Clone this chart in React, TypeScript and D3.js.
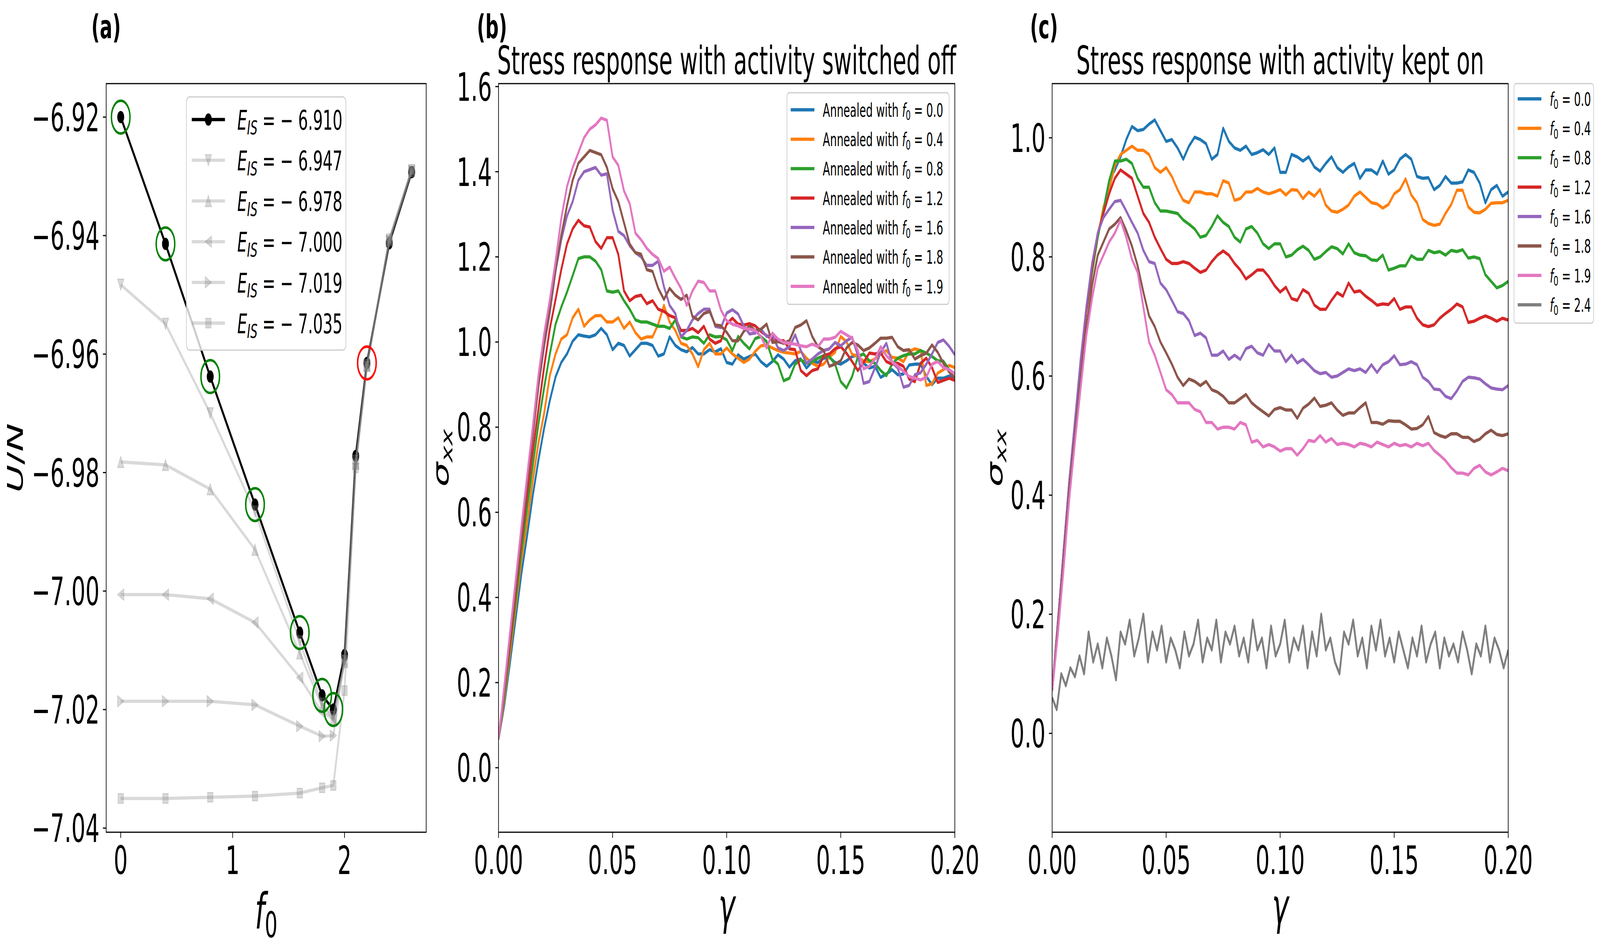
import React, { useEffect, useRef } from 'react';
import * as d3 from 'd3';

const W = 7234;
const H = 2434;
const FONT = '"DejaVu Sans", "Liberation Sans", sans-serif';

// ---------- panel (a): energy vs f0 ----------
const f0Values = [0, 0.4, 0.8, 1.2, 1.6, 1.8, 1.9, 2.0, 2.1, 2.2, 2.4, 2.6];
const eisLabels = ['6.910', '6.947', '6.978', '7.000', '7.019', '7.035'];
const eisMarkers = ['circle', 'tdown', 'tup', 'tleft', 'tright', 'square'];
const u6910 = [-6.920, -6.9414, -6.9638, -6.9854, -7.0070, -7.0176, -7.0200, -7.0108, -6.9772, -6.9615, -6.9413, -6.9293];
const u6947 = [-6.9483, -6.9549, -6.9700, -6.9866, -7.0085, -7.0190, -7.0212, -7.0118, -6.9780, -6.9618, -6.9410, -6.9292];
const u6978 = [-6.9782, -6.9787, -6.9828, -6.9930, -7.0105, -7.0195, -7.0215, -7.0120, -6.9785, -6.9620, -6.9408, -6.9291];
const u7000 = [-7.0006, -7.0006, -7.0013, -7.0053, -7.0146, -7.0205, -7.0215, -7.0118, -6.9785, -6.9620, -6.9408, -6.9290];
const u7019 = [-7.0186, -7.0186, -7.0186, -7.0192, -7.0228, -7.0245, -7.0244, -7.0115, -6.9785, -6.9620, -6.9408, -6.9290];
const u7035 = [-7.0350, -7.0350, -7.0348, -7.0346, -7.0341, -7.0332, -7.0328, -7.0168, -6.9792, -6.9620, -6.9405, -6.9288];
const energySeries = [u6910, u6947, u6978, u7000, u7019, u7035];
const greenCircleIdx = [0, 1, 2, 3, 4, 5, 6];
const redCircleIdx = [9];
const aTicksX = [0, 1, 2];
const aTicksY = [-7.04, -7.02, -7.0, -6.98, -6.96, -6.94, -6.92];

// ---------- panels (b), (c): stress vs strain ----------
const strainGrid = d3.range(81).map((i) => i * 0.0025);
const strainGridFine = d3.range(101).map((i) => i * 0.002);
const f0Legend = ['0.0', '0.4', '0.8', '1.2', '1.6', '1.8', '1.9', '2.4'];
const tab10 = ['#1f77b4', '#ff7f0e', '#2ca02c', '#d62728', '#9467bd', '#8c564b', '#e377c2', '#7f7f7f'];

const offF00 = [0.067, 0.146, 0.246, 0.35, 0.455, 0.544, 0.639, 0.723, 0.798, 0.863, 0.918, 0.952, 0.972, 1.002, 1.017, 1.014, 1.012, 1.017, 1.032, 1.017, 0.982, 0.997, 0.992, 0.967, 0.982, 0.997, 0.997, 0.992, 0.967, 0.972, 1.012, 0.992, 0.982, 0.977, 0.987, 0.972, 0.972, 0.982, 0.977,
  0.984, 0.952, 0.948, 0.97, 0.96, 0.966, 0.972, 0.954, 0.943, 0.954, 0.97, 0.96, 0.941, 0.956, 0.96, 0.939, 0.954, 0.952, 0.962, 0.964, 0.952, 0.948, 0.956, 0.966, 0.97, 0.95, 0.939, 0.943, 0.917, 0.925, 0.935, 0.923, 0.925, 0.946, 0.948, 0.948, 0.919, 0.9, 0.915, 0.915, 0.92, 0.915];
const offF04 = [0.067, 0.156, 0.266, 0.375, 0.485, 0.574, 0.674, 0.763, 0.833, 0.922, 0.972, 1.007, 1.017, 1.057, 1.077, 1.037, 1.052, 1.062, 1.062, 1.047, 1.047, 1.057, 1.032, 1.047, 1.022, 1.007, 1.012, 1.012, 1.042, 1.086, 1.047, 1.027, 0.997, 0.992, 0.972, 0.942, 0.982, 0.997, 0.972,
  0.972, 0.986, 0.972, 0.962, 0.952, 0.96, 0.978, 0.991, 0.993, 0.986, 0.98, 0.976, 0.974, 0.972, 0.978, 0.962, 0.95, 0.943, 0.948, 0.965, 0.976, 1.013, 1.001, 0.971, 0.966, 0.955, 0.954, 0.96, 0.972, 0.98, 0.964, 0.962, 0.954, 0.978, 0.984, 0.98, 0.898, 0.902, 0.927, 0.935, 0.945, 0.94];
const offF08 = [0.067, 0.166, 0.28, 0.39, 0.505, 0.609, 0.709, 0.808, 0.893, 0.972, 1.042, 1.082, 1.117, 1.156, 1.196, 1.2, 1.2, 1.19, 1.17, 1.12, 1.117, 1.12, 1.097, 1.077, 1.052, 1.047, 1.047, 1.042, 1.037, 1.037, 1.032, 1.052, 1.012, 1.007, 1.012, 1.01, 0.997, 1.017, 1.012,
  1.013, 1.005, 0.98, 1.013, 0.997, 0.984, 1.008, 1.013, 1.001, 0.96, 0.948, 0.909, 0.915, 0.948, 0.958, 0.95, 0.954, 0.962, 0.968, 0.966, 0.948, 0.907, 0.892, 0.919, 0.966, 0.972, 0.956, 0.95, 0.933, 0.921, 0.948, 0.962, 0.968, 0.972, 0.972, 0.98, 0.974, 0.966, 0.956, 0.955, 0.935, 0.925];
const offF12 = [0.067, 0.176, 0.29, 0.41, 0.53, 0.639, 0.743, 0.843, 0.942, 1.032, 1.10, 1.17, 1.23, 1.266, 1.286, 1.273, 1.27, 1.236, 1.22, 1.245, 1.245, 1.206, 1.12, 1.097, 1.107, 1.11, 1.09, 1.097, 1.077, 1.072, 1.062, 1.057, 1.027, 1.027, 1.032, 1.022, 1.037, 1.007, 0.997,
  1.003, 1.042, 1.056, 1.042, 1.04, 1.043, 1.038, 1.025, 1.015, 1.007, 1.003, 1.003, 0.984, 0.982, 0.933, 0.921, 0.933, 0.937, 0.968, 0.972, 0.984, 0.989, 0.974, 0.954, 0.933, 0.952, 0.974, 0.972, 0.974, 0.954, 0.948, 0.95, 0.943, 0.913, 0.907, 0.95, 0.962, 0.94, 0.905, 0.91, 0.915, 0.91];
const offF16 = [0.067, 0.18, 0.306, 0.425, 0.546, 0.666, 0.78, 0.895, 0.99, 1.07, 1.166, 1.24, 1.296, 1.33, 1.38, 1.40, 1.405, 1.41, 1.392, 1.395, 1.31, 1.26, 1.25, 1.226, 1.21, 1.20, 1.18, 1.18, 1.19, 1.13, 1.086, 1.067, 1.012, 1.027, 1.052, 1.067, 1.077, 1.077, 1.037,
  1.034, 1.068, 1.076, 1.066, 1.038, 1.019, 1.021, 1.03, 1.013, 1.017, 0.986, 0.98, 0.989, 1.017, 0.98, 0.95, 0.96, 0.972, 0.98, 0.984, 0.999, 0.991, 1.003, 1.011, 0.968, 0.903, 0.907, 0.939, 0.976, 0.997, 0.952, 0.939, 0.894, 0.898, 0.923, 0.928, 0.948, 0.972, 0.999, 1.005, 0.99, 0.97];
const offF18 = [0.067, 0.18, 0.306, 0.425, 0.55, 0.669, 0.78, 0.90, 0.997, 1.077, 1.17, 1.25, 1.32, 1.38, 1.42, 1.435, 1.45, 1.445, 1.44, 1.41, 1.36, 1.33, 1.28, 1.23, 1.21, 1.206, 1.17, 1.166, 1.126, 1.10, 1.126, 1.11, 1.10, 1.11, 1.06, 1.052, 1.067, 1.072, 1.04,
  1.038, 1.023, 1.003, 1.003, 1.025, 1.038, 1.027, 1.03, 1.042, 0.999, 1.001, 0.997, 1.003, 1.034, 1.04, 1.05, 1.013, 0.989, 0.98, 0.943, 0.948, 0.956, 0.986, 0.999, 0.993, 0.98, 0.986, 0.997, 1.009, 1.009, 1.011, 0.989, 0.98, 0.982, 0.96, 0.968, 0.974, 0.993, 0.976, 0.95, 0.93, 0.915];
const offF19 = [0.067, 0.19, 0.316, 0.44, 0.565, 0.684, 0.80, 0.922, 1.02, 1.10, 1.19, 1.29, 1.365, 1.41, 1.445, 1.48, 1.50, 1.51, 1.526, 1.521, 1.435, 1.415, 1.355, 1.325, 1.256, 1.24, 1.22, 1.206, 1.196, 1.166, 1.176, 1.15, 1.126, 1.086, 1.12, 1.143, 1.14, 1.12, 1.12,
  1.075, 1.05, 1.042, 1.038, 1.032, 1.03, 1.027, 1.013, 0.986, 1.021, 1.007, 0.999, 0.997, 0.995, 0.991, 0.989, 0.995, 0.989, 1.007, 1.007, 1.011, 1.025, 1.017, 1.009, 0.98, 0.937, 0.943, 0.96, 0.989, 0.968, 0.954, 0.943, 0.931, 0.919, 0.915, 0.911, 0.917, 0.948, 0.954, 0.94, 0.935, 0.925];

const onF00 = [0.071, 0.188, 0.302, 0.415, 0.51, 0.613, 0.708, 0.774, 0.833, 0.88, 0.928, 0.946, 0.968, 0.997, 1.019, 1.012, 1.014, 1.023, 1.03, 1.012, 0.994, 0.997, 0.983, 0.964, 0.986, 1.001, 0.997, 0.99, 0.964, 0.972, 1.016, 0.994, 0.983, 0.979, 0.986, 0.972, 0.975, 0.98, 0.972, 0.983, 0.942,
  0.942, 0.972, 0.968, 0.961, 0.968, 0.951, 0.944, 0.957, 0.968, 0.95, 0.942, 0.951, 0.957, 0.932, 0.946, 0.946, 0.939, 0.961, 0.939, 0.946, 0.964, 0.972, 0.964, 0.935, 0.932, 0.933, 0.913, 0.92, 0.935, 0.924, 0.924, 0.926, 0.946, 0.942, 0.924, 0.891, 0.913, 0.92, 0.902, 0.909];
const onF04 = [0.071, 0.188, 0.302, 0.415, 0.51, 0.613, 0.708, 0.774, 0.833, 0.884, 0.913, 0.953, 0.972, 0.979, 0.986, 0.979, 0.979, 0.972, 0.95, 0.942, 0.95, 0.935, 0.913, 0.895, 0.891, 0.909, 0.909, 0.906, 0.906, 0.902, 0.928, 0.924, 0.895, 0.898, 0.909, 0.909, 0.915, 0.909, 0.906, 0.909, 0.913,
  0.904, 0.913, 0.912, 0.898, 0.909, 0.902, 0.913, 0.887, 0.877, 0.875, 0.88, 0.887, 0.902, 0.909, 0.9, 0.891, 0.889, 0.882, 0.888, 0.906, 0.913, 0.931, 0.904, 0.891, 0.863, 0.856, 0.853, 0.855, 0.873, 0.888, 0.912, 0.912, 0.884, 0.875, 0.874, 0.88, 0.89, 0.891, 0.891, 0.895];
const onF08 = [0.071, 0.174, 0.291, 0.408, 0.507, 0.609, 0.708, 0.774, 0.833, 0.877, 0.928, 0.961, 0.961, 0.964, 0.957, 0.932, 0.917, 0.917, 0.891, 0.877, 0.877, 0.875, 0.873, 0.862, 0.855, 0.847, 0.833, 0.836, 0.851, 0.869, 0.858, 0.851, 0.833, 0.825, 0.847, 0.851, 0.84, 0.822, 0.814, 0.822, 0.822,
  0.8, 0.803, 0.812, 0.818, 0.811, 0.796, 0.8, 0.809, 0.817, 0.814, 0.805, 0.822, 0.807, 0.803, 0.802, 0.795, 0.794, 0.803, 0.778, 0.781, 0.785, 0.785, 0.802, 0.796, 0.796, 0.811, 0.807, 0.809, 0.803, 0.811, 0.809, 0.812, 0.798, 0.8, 0.797, 0.77, 0.759, 0.748, 0.752, 0.759];
const onF12 = [0.071, 0.181, 0.306, 0.423, 0.522, 0.62, 0.708, 0.781, 0.84, 0.873, 0.906, 0.932, 0.946, 0.939, 0.932, 0.902, 0.873, 0.858, 0.833, 0.814, 0.796, 0.789, 0.789, 0.792, 0.789, 0.781, 0.774, 0.778, 0.792, 0.803, 0.81, 0.803, 0.789, 0.778, 0.763, 0.77, 0.778, 0.778, 0.767, 0.752, 0.741,
  0.749, 0.73, 0.727, 0.745, 0.739, 0.719, 0.712, 0.712, 0.727, 0.74, 0.734, 0.756, 0.741, 0.743, 0.734, 0.727, 0.719, 0.721, 0.72, 0.73, 0.712, 0.716, 0.716, 0.697, 0.686, 0.683, 0.686, 0.697, 0.705, 0.712, 0.721, 0.716, 0.69, 0.692, 0.697, 0.701, 0.697, 0.692, 0.697, 0.694];
const onF16 = [0.071, 0.185, 0.306, 0.423, 0.525, 0.628, 0.716, 0.789, 0.84, 0.866, 0.88, 0.893, 0.895, 0.877, 0.858, 0.84, 0.811, 0.792, 0.789, 0.756, 0.745, 0.727, 0.708, 0.705, 0.693, 0.668, 0.672, 0.664, 0.635, 0.635, 0.642, 0.628, 0.635, 0.628, 0.646, 0.65, 0.639, 0.635, 0.653, 0.642, 0.642,
  0.624, 0.635, 0.622, 0.628, 0.619, 0.609, 0.604, 0.606, 0.598, 0.6, 0.606, 0.612, 0.609, 0.612, 0.606, 0.619, 0.606, 0.619, 0.624, 0.634, 0.619, 0.62, 0.624, 0.619, 0.598, 0.591, 0.578, 0.577, 0.566, 0.562, 0.575, 0.591, 0.598, 0.597, 0.595, 0.587, 0.58, 0.578, 0.577, 0.584];
const onF18 = [0.071, 0.174, 0.291, 0.408, 0.503, 0.598, 0.679, 0.752, 0.803, 0.825, 0.847, 0.855, 0.866, 0.844, 0.818, 0.785, 0.741, 0.701, 0.683, 0.657, 0.639, 0.62, 0.598, 0.584, 0.595, 0.591, 0.584, 0.591, 0.577, 0.573, 0.566, 0.555, 0.555, 0.562, 0.569, 0.555, 0.547, 0.54, 0.533, 0.544, 0.547,
  0.543, 0.543, 0.529, 0.546, 0.553, 0.563, 0.549, 0.551, 0.555, 0.543, 0.534, 0.538, 0.538, 0.547, 0.555, 0.522, 0.522, 0.519, 0.525, 0.524, 0.524, 0.518, 0.511, 0.512, 0.518, 0.532, 0.505, 0.5, 0.497, 0.503, 0.503, 0.497, 0.497, 0.49, 0.494, 0.503, 0.509, 0.502, 0.5, 0.503];
const onF19 = [0.071, 0.166, 0.276, 0.393, 0.489, 0.58, 0.668, 0.73, 0.781, 0.803, 0.825, 0.84, 0.862, 0.833, 0.796, 0.774, 0.716, 0.657, 0.635, 0.606, 0.577, 0.569, 0.555, 0.555, 0.555, 0.544, 0.54, 0.522, 0.522, 0.511, 0.514, 0.514, 0.511, 0.522, 0.518, 0.489, 0.492, 0.481, 0.485, 0.481, 0.474,
  0.478, 0.478, 0.467, 0.478, 0.492, 0.49, 0.5, 0.489, 0.495, 0.485, 0.487, 0.485, 0.481, 0.487, 0.485, 0.481, 0.489, 0.485, 0.481, 0.487, 0.483, 0.485, 0.481, 0.487, 0.483, 0.487, 0.475, 0.467, 0.458, 0.446, 0.437, 0.437, 0.434, 0.445, 0.45, 0.439, 0.434, 0.439, 0.445, 0.441];
const onF24 = [0.06, 0.04, 0.10, 0.08, 0.11, 0.095, 0.13, 0.10, 0.17, 0.12, 0.15, 0.11, 0.16, 0.13, 0.09, 0.17, 0.15, 0.19, 0.13, 0.16, 0.20, 0.12, 0.17, 0.14, 0.18, 0.12, 0.16, 0.14, 0.11, 0.17, 0.13, 0.15, 0.19, 0.12, 0.16, 0.14, 0.19, 0.12, 0.17, 0.15, 0.18, 0.13, 0.16, 0.12, 0.19, 0.14, 0.16, 0.11, 0.18, 0.13,
  0.15, 0.19, 0.12, 0.16, 0.14, 0.18, 0.11, 0.17, 0.13, 0.20, 0.14, 0.16, 0.12, 0.10, 0.17, 0.15, 0.19, 0.13, 0.16, 0.11, 0.18, 0.14, 0.19, 0.13, 0.16, 0.12, 0.17, 0.14, 0.11, 0.16, 0.13, 0.18, 0.12, 0.15, 0.17, 0.11, 0.16, 0.13, 0.15, 0.12, 0.17, 0.14, 0.10, 0.15, 0.13, 0.18, 0.12, 0.16, 0.14, 0.11, 0.14];

const offSeries = [offF00, offF04, offF08, offF12, offF16, offF18, offF19];
const onSeries = [onF00, onF04, onF08, onF12, onF16, onF18, onF19];
const stressTicksX = [0, 0.05, 0.1, 0.15, 0.2];
const offTicksY = [0, 0.2, 0.4, 0.6, 0.8, 1.0, 1.2, 1.4, 1.6];
const onTicksY = [0, 0.2, 0.4, 0.6, 0.8, 1.0];

// ---------- layout (in reference pixels, the svg viewBox) ----------
const TICK_FS = 100;
const TICK_LEN = 14.6;
const SPINE = 3;
const LW = 8.3;
const MARK = 29;
const SUB = 0.72;
const axA = { x0: 480, x1: 1927, y0: 214, y1: 2130 };
const axB = { x0: 2254, x1: 4317, y0: 214, y1: 2130 };
const axC = { x0: 4757, x1: 6819, y0: 214, y1: 2130 };

type Sel = d3.Selection<any, any, any, any>;
type Part = { t: string; it?: boolean; sub?: boolean };

// text with italic and subscript pieces, like matplotlib mathtext
function mathText(g: Sel, x: number, y: number, fs: number, parts: Part[], anchor = 'start') {
  const t = g.append('text').attr('x', x).attr('y', y).attr('font-size', fs)
    .attr('font-family', FONT).attr('text-anchor', anchor).attr('fill', 'black')
    .style('white-space', 'pre');
  let shifted = false;
  parts.forEach((p) => {
    const s = t.append('tspan').text(p.t);
    if (p.it) s.attr('font-style', 'italic');
    if (p.sub) {
      s.attr('font-size', fs * SUB);
      if (!shifted) s.attr('dy', fs * 0.18);
      shifted = true;
    } else if (shifted) {
      s.attr('dy', -fs * 0.18);
      shifted = false;
    }
  });
  return t;
}

function markerPath(kind: string, s: number) {
  const h = s / 2;
  switch (kind) {
    case 'tup': return `M0,${-h}L${h},${h}L${-h},${h}Z`;
    case 'tdown': return `M0,${h}L${h},${-h}L${-h},${-h}Z`;
    case 'tleft': return `M${-h},0L${h},${-h}L${h},${h}Z`;
    case 'tright': return `M${h},0L${-h},${-h}L${-h},${h}Z`;
    case 'square': return `M${-h * 0.85},${-h * 0.85}H${h * 0.85}V${h * 0.85}H${-h * 0.85}Z`;
    default: return d3.symbol().type(d3.symbolCircle).size(Math.PI * h * h)() || '';
  }
}

function frame(g: Sel, ax: typeof axA, x: d3.ScaleLinear<number, number>, y: d3.ScaleLinear<number, number>,
  ticksX: number[], ticksY: number[], fmtX: (v: number) => string, fmtY: (v: number) => string) {
  g.append('rect').attr('x', ax.x0).attr('y', ax.y0).attr('width', ax.x1 - ax.x0).attr('height', ax.y1 - ax.y0)
    .attr('fill', 'none').attr('stroke', 'black').attr('stroke-width', SPINE);
  ticksX.forEach((v) => {
    g.append('line').attr('x1', x(v)).attr('x2', x(v)).attr('y1', ax.y1).attr('y2', ax.y1 + TICK_LEN)
      .attr('stroke', 'black').attr('stroke-width', SPINE);
    g.append('text').attr('x', x(v)).attr('y', 2237).attr('text-anchor', 'middle')
      .attr('font-size', TICK_FS).attr('font-family', FONT).text(fmtX(v));
  });
  ticksY.forEach((v) => {
    g.append('line').attr('x1', ax.x0 - TICK_LEN).attr('x2', ax.x0).attr('y1', y(v)).attr('y2', y(v))
      .attr('stroke', 'black').attr('stroke-width', SPINE);
    g.append('text').attr('x', ax.x0 - 30).attr('y', y(v) + 0.36 * TICK_FS).attr('text-anchor', 'end')
      .attr('font-size', TICK_FS).attr('font-family', FONT).text(fmtY(v));
  });
}

function panelLabel(g: Sel, x: number, txt: string) {
  g.append('text').attr('x', x).attr('y', 98).attr('font-size', 84).attr('font-weight', 'bold')
    .attr('font-family', FONT).text(txt);
}

const minus = (s: string) => s.replace('-', '\u2212');

function drawEnergy(svg: Sel) {
  const g = svg.append('g');
  const x = d3.scaleLinear().domain([-0.13, 2.73]).range([axA.x0, axA.x1]);
  const y = d3.scaleLinear().domain([-7.0407, -6.91435]).range([axA.y1, axA.y0]);
  const line = d3.line<number>().x((_, i) => x(f0Values[i])).y((d) => y(d));

  energySeries.forEach((s, k) => {
    const first = k === 0;
    const sg = g.append('g');
    sg.append('path').attr('d', line(s)).attr('fill', 'none')
      .attr('stroke', first ? 'black' : '#808080').attr('stroke-opacity', first ? 1 : 0.3)
      .attr('stroke-width', LW).attr('stroke-linejoin', 'round');
    s.forEach((v, i) => {
      sg.append('path').attr('d', markerPath(eisMarkers[k], MARK))
        .attr('transform', `translate(${x(f0Values[i])},${y(v)})`)
        .attr('fill', first ? 'black' : '#808080').attr('fill-opacity', first ? 1 : 0.3)
        .attr('stroke', first ? 'black' : '#808080').attr('stroke-opacity', first ? 1 : 0.3)
        .attr('stroke-width', 2.5);
    });
  });
  const circ = (idx: number[], color: string) => idx.forEach((i) => {
    g.append('circle').attr('cx', x(f0Values[i])).attr('cy', y(u6910[i])).attr('r', 42)
      .attr('fill', 'none').attr('stroke', color).attr('stroke-width', 6.5);
  });
  circ(greenCircleIdx, '#008000');
  circ(redCircleIdx, '#ff0000');

  frame(g, axA, x, y, aTicksX, aTicksY, (v) => String(v), (v) => minus(v.toFixed(2)));

  // legend
  const lg = g.append('g');
  lg.append('rect').attr('x', 843).attr('y', 248).attr('width', 721).attr('height', 648).attr('rx', 14)
    .attr('fill', 'white').attr('fill-opacity', 0.8).attr('stroke', '#cccccc').attr('stroke-width', SPINE);
  eisLabels.forEach((lab, k) => {
    const ry = 306 + k * 104.2;
    const first = k === 0;
    lg.append('line').attr('x1', 867).attr('x2', 1017).attr('y1', ry).attr('y2', ry)
      .attr('stroke', first ? 'black' : '#808080').attr('stroke-opacity', first ? 1 : 0.3).attr('stroke-width', LW);
    lg.append('path').attr('d', markerPath(eisMarkers[k], MARK)).attr('transform', `translate(942,${ry})`)
      .attr('fill', first ? 'black' : '#808080').attr('fill-opacity', first ? 1 : 0.3)
      .attr('stroke', first ? 'black' : '#808080').attr('stroke-opacity', first ? 1 : 0.3).attr('stroke-width', 2.5);
    mathText(lg, 1073, ry + 0.37 * 70, 70, [{ t: 'E', it: true }, { t: 'IS', it: true, sub: true }, { t: ' = \u2212 ' + lab }]);
  });

  // axis labels
  const yl = g.append('g').attr('transform', `translate(102,${(axA.y0 + axA.y1) / 2}) rotate(-90)`);
  mathText(yl, 0, 0, 98, [{ t: 'U', it: true }, { t: '/' }, { t: 'N', it: true }], 'middle');
  mathText(g, (axA.x0 + axA.x1) / 2, 2376, 126, [{ t: 'f', it: true }, { t: '0', sub: true }], 'middle');
  panelLabel(g, 413, '(a)');
}

function drawStress(svg: Sel, ax: typeof axB, domainY: [number, number], series: number[][], extra: number[] | null,
  ticksY: number[], title: string, label: string, labelX: number, legend: { x: number; y: number; w: number; h: number; row0: number; prefix: string }) {
  const g = svg.append('g');
  const x = d3.scaleLinear().domain([0, 0.2]).range([ax.x0, ax.x1]);
  const y = d3.scaleLinear().domain(domainY).range([ax.y1, ax.y0]);
  const clipId = 'clip' + label.replace(/\W/g, '');
  svg.append('defs').append('clipPath').attr('id', clipId).append('rect')
    .attr('x', ax.x0).attr('y', ax.y0).attr('width', ax.x1 - ax.x0).attr('height', ax.y1 - ax.y0);
  const lines = g.append('g').attr('clip-path', `url(#${clipId})`);
  const line = d3.line<number>().x((_, i) => x(strainGrid[i])).y((d) => y(d));
  series.forEach((s, k) => {
    lines.append('path').attr('d', line(s)).attr('fill', 'none').attr('stroke', tab10[k])
      .attr('stroke-width', LW).attr('stroke-linejoin', 'round');
  });
  if (extra) {
    const lineFine = d3.line<number>().x((_, i) => x(strainGridFine[i])).y((d) => y(d));
    lines.append('path').attr('d', lineFine(extra)).attr('fill', 'none').attr('stroke', tab10[7])
      .attr('stroke-width', LW).attr('stroke-linejoin', 'round');
  }
  frame(g, ax, x, y, stressTicksX, ticksY, (v) => v.toFixed(2), (v) => v.toFixed(1));

  g.append('text').attr('x', (ax.x0 + ax.x1) / 2).attr('y', 190).attr('text-anchor', 'middle')
    .attr('font-size', 100).attr('font-family', FONT).text(title);

  const n = series.length + (extra ? 1 : 0);
  const lg = g.append('g');
  lg.append('rect').attr('x', legend.x).attr('y', legend.y).attr('width', legend.w).attr('height', legend.h).attr('rx', 10)
    .attr('fill', 'white').attr('fill-opacity', 0.8).attr('stroke', '#cccccc').attr('stroke-width', SPINE);
  for (let k = 0; k < n; k++) {
    const ry = legend.row0 + k * 75.3;
    lg.append('line').attr('x1', legend.x + 17).attr('x2', legend.x + 124).attr('y1', ry).attr('y2', ry)
      .attr('stroke', tab10[k]).attr('stroke-width', LW);
    const parts: Part[] = [];
    if (legend.prefix) parts.push({ t: legend.prefix });
    parts.push({ t: 'f', it: true }, { t: '0', sub: true }, { t: ' = ' + f0Legend[k] });
    mathText(lg, legend.x + 162, ry + 0.37 * 48, 48, parts);
  }

  const yl = g.append('g').attr('transform', `translate(${ax.x0 - 226},${(ax.y0 + ax.y1) / 2}) rotate(-90)`);
  mathText(yl, 0, 0, 100, [{ t: '\u03c3', it: true }, { t: 'xx', it: true, sub: true }], 'middle');
  mathText(g, (ax.x0 + ax.x1) / 2, 2364, 126, [{ t: '\u03b3', it: true }], 'middle');
  panelLabel(g, labelX, label);
}

const App: React.FC = () => {
  const svgRef = useRef<SVGSVGElement>(null);

  useEffect(() => {
    // the browser window is narrower than the figure, so the whole figure is fitted to it
    document.body.style.margin = '0';
    document.body.style.overflow = 'hidden';
    if (!svgRef.current) return;
    const svg = d3.select(svgRef.current);
    svg.selectAll('*').remove();
    svg.append('rect').attr('width', W).attr('height', H).attr('fill', 'white');
    drawEnergy(svg);
    drawStress(svg, axB, [-0.1515, 1.607], offSeries, null, offTicksY,
      'Stress response with activity switched off', '(b)', 2156,
      { x: 3558, y: 237.5, w: 733, h: 541.5, row0: 281, prefix: 'Annealed with ' });
    drawStress(svg, axC, [-0.166, 1.091], onSeries, onF24, onTicksY,
      'Stress response with activity kept on', '(c)', 4657,
      { x: 6845, y: 214, w: 360, h: 613, row0: 253, prefix: '' });
  }, []);

  return (
    <svg ref={svgRef} width="100%" height={H} viewBox={`0 0 ${W} ${H}`} preserveAspectRatio="none"
      style={{ display: 'block' }} />
  );
};

export default App;
